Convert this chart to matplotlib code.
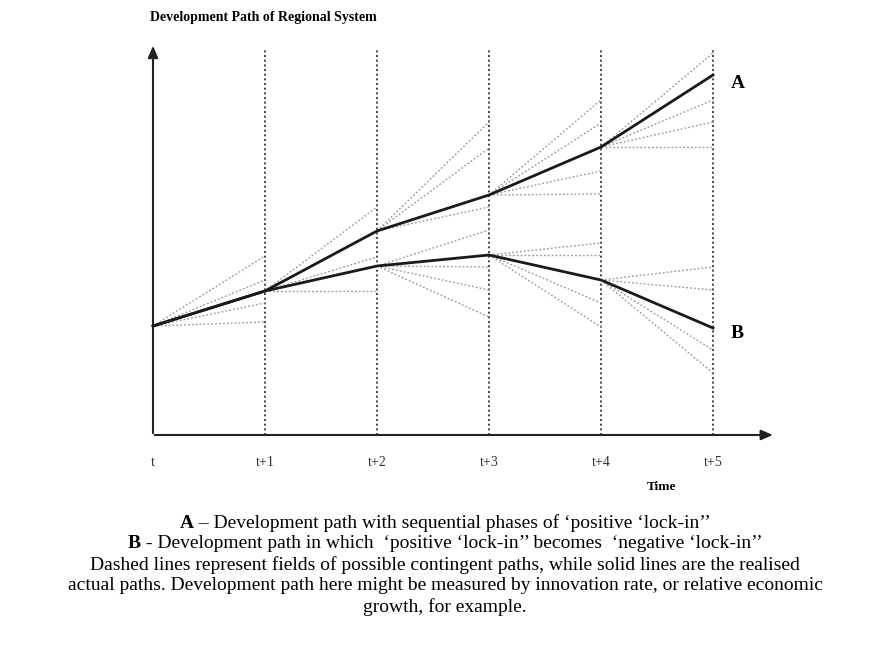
import matplotlib
matplotlib.use("Agg")
import matplotlib.pyplot as plt
from matplotlib.offsetbox import TextArea, HPacker, AnnotationBbox

plt.rcParams['font.family'] = ['Liberation Serif', 'DejaVu Serif']

# time steps and the two realised paths (level above the time axis)
times = [0, 1, 2, 3, 4, 5]
tick_labels = ["t", "t+1", "t+2", "t+3", "t+4", "t+5"]
path_A = [109, 144, 204, 240, 288, 360]
path_B = [109, 144, 169, 180, 155, 107]

# contingent (possible) paths: start time, start level, end levels at next step
fans = [
    (0, 109, [179, 155, 132, 113]),
    (1, 144, [228, 178, 144]),
    (2, 204, [313, 287, 228]),
    (2, 169, [205, 168, 145, 118]),
    (3, 240, [335, 312, 264, 241]),
    (3, 180, [192, 180, 132, 108]),
    (4, 288, [382, 335, 313, 288]),
    (4, 155, [168, 145, 85, 62]),
]

caption = [
    ("A", " \u2013 Development path with sequential phases of \u2018positive \u2018lock-in\u2019\u2019"),
    ("B", " - Development path in which  \u2018positive \u2018lock-in\u2019\u2019 becomes  \u2018negative \u2018lock-in\u2019\u2019"),
    ("", "Dashed lines represent fields of possible contingent paths, while solid lines are the realised"),
    ("", "actual paths. Development path here might be measured by innovation rate, or relative economic"),
    ("", "growth, for example."),
]

fig = plt.figure(figsize=(8.89, 6.54), dpi=100)
ax = fig.add_axes([0, 0, 1, 1])
# 112 px per time step, x=0 at pixel 153; level 0 at pixel row 435
ax.set_xlim(-153 / 112, (889 - 153) / 112)
ax.set_ylim(435 - 654, 435)
ax.axis("off")

# vertical dotted time markers
for t in times[1:]:
    ax.plot([t, t], [0, 385], color="#444444", lw=1.4, ls=(0, (1.0, 1.4)), zorder=2)

# fans of possible paths
for t0, y0, ends in fans:
    for y1 in ends:
        ax.plot([t0, t0 + 1], [y0, y1], color="#9a9a9a", lw=1.0, ls=(0, (1.3, 1.5)), zorder=3)

# realised paths
ax.plot(times, path_A, color="#1a1a1a", lw=2.0, zorder=4)
ax.plot(times, path_B, color="#1a1a1a", lw=2.0, zorder=4)

# axes with arrows
ax.annotate("", xy=(0, 392), xytext=(0, -1),
            arrowprops=dict(arrowstyle="-|>,head_length=0.7,head_width=0.3", color="#222222", lw=1.5))
ax.annotate("", xy=(5.56, 0), xytext=(-0.01, 0),
            arrowprops=dict(arrowstyle="-|>,head_length=0.7,head_width=0.3", color="#222222", lw=1.5))

for t, lab in zip(times, tick_labels):
    ax.text(t, -27, lab, ha="center", va="center", fontsize=10, color="#333333")

ax.text(4.54, -52, "Time", ha="center", va="center", fontsize=9.5, fontweight="bold")
ax.text(-0.03, 417, "Development Path of Regional System", ha="left", va="center",
        fontsize=10, fontweight="bold")
ax.text(5.16, 352, "A", ha="left", va="center", fontsize=14, fontweight="bold")
ax.text(5.16, 101, "B", ha="left", va="center", fontsize=14, fontweight="bold")

# caption below the chart
for i, (bold, rest) in enumerate(caption):
    parts = []
    if bold:
        parts.append(TextArea(bold, textprops=dict(fontsize=14, fontweight="bold")))
    parts.append(TextArea(rest, textprops=dict(fontsize=14)))
    box = HPacker(children=parts, pad=0, sep=0, align="baseline")
    ab = AnnotationBbox(box, (445 / 889, 1 - (523 + 21 * i) / 654), xycoords="figure fraction",
                        frameon=False, box_alignment=(0.5, 0.5), pad=0)
    ax.add_artist(ab)

fig.savefig("out.png", dpi=100)
